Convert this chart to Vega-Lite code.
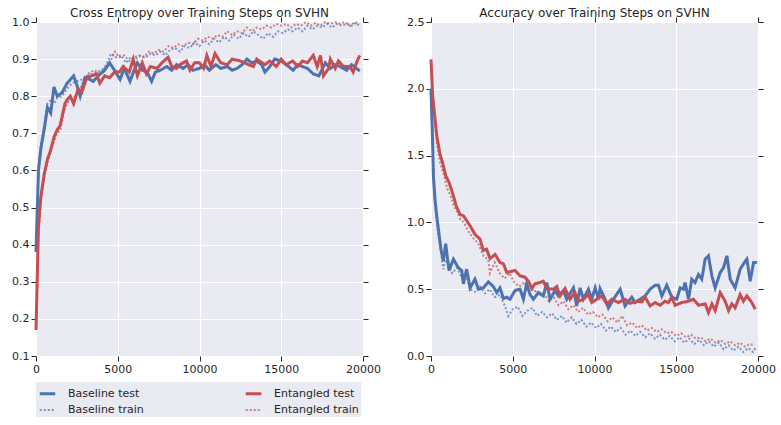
{
  "$schema": "https://vega.github.io/schema/vega-lite/v6.json",
  "background": "white",
  "padding": {"left": 11, "top": 7, "right": 5, "bottom": 3},
  "config": {
    "font": "DejaVu Sans",
    "view": {"fill": "#EAEAF2", "stroke": null},
    "axis": {
      "domain": false,
      "gridColor": "white",
      "gridWidth": 1,
      "tickColor": "#262626",
      "tickSize": 5,
      "tickWidth": 1,
      "labelColor": "#262626",
      "labelFontSize": 11,
      "labelPadding": 2,
      "labelFlush": false,
      "title": null
    },
    "title": {"fontSize": 12, "fontWeight": "normal", "color": "#262626", "offset": -4},
    "legend": {
      "fillColor": "#EAEAF2",
      "padding": 2,
      "labelFontSize": 11,
      "labelColor": "#262626",
      "labelOffset": 11,
      "symbolType": "stroke",
      "symbolSize": 240,
      "rowPadding": 1,
      "columnPadding": 95
    },
    "concat": {"spacing": 25}
  },
  "datasets": {
    "left": [
      {"series": "Baseline train", "step": 0, "value": 0.38},
      {"series": "Baseline train", "step": 150, "value": 0.6},
      {"series": "Baseline train", "step": 300, "value": 0.67},
      {"series": "Baseline train", "step": 500, "value": 0.72},
      {"series": "Baseline train", "step": 700, "value": 0.78},
      {"series": "Baseline train", "step": 900, "value": 0.79},
      {"series": "Baseline train", "step": 1100, "value": 0.78},
      {"series": "Baseline train", "step": 1300, "value": 0.795},
      {"series": "Baseline train", "step": 1600, "value": 0.8},
      {"series": "Baseline train", "step": 1900, "value": 0.82},
      {"series": "Baseline train", "step": 2200, "value": 0.835},
      {"series": "Baseline train", "step": 2500, "value": 0.84},
      {"series": "Baseline train", "step": 2800, "value": 0.845},
      {"series": "Baseline train", "step": 3100, "value": 0.855},
      {"series": "Baseline train", "step": 3400, "value": 0.86},
      {"series": "Baseline train", "step": 3700, "value": 0.865},
      {"series": "Baseline train", "step": 4000, "value": 0.87},
      {"series": "Baseline train", "step": 4300, "value": 0.885},
      {"series": "Baseline train", "step": 4600, "value": 0.915},
      {"series": "Baseline train", "step": 4900, "value": 0.905},
      {"series": "Baseline train", "step": 5200, "value": 0.91},
      {"series": "Baseline train", "step": 5500, "value": 0.89},
      {"series": "Baseline train", "step": 5800, "value": 0.905},
      {"series": "Baseline train", "step": 6100, "value": 0.9},
      {"series": "Baseline train", "step": 6400, "value": 0.91},
      {"series": "Baseline train", "step": 6700, "value": 0.905},
      {"series": "Baseline train", "step": 7000, "value": 0.915},
      {"series": "Baseline train", "step": 7300, "value": 0.91},
      {"series": "Baseline train", "step": 7600, "value": 0.92},
      {"series": "Baseline train", "step": 7900, "value": 0.91},
      {"series": "Baseline train", "step": 8200, "value": 0.925},
      {"series": "Baseline train", "step": 8500, "value": 0.93},
      {"series": "Baseline train", "step": 8800, "value": 0.92},
      {"series": "Baseline train", "step": 9100, "value": 0.935},
      {"series": "Baseline train", "step": 9400, "value": 0.93},
      {"series": "Baseline train", "step": 9700, "value": 0.945},
      {"series": "Baseline train", "step": 10000, "value": 0.935},
      {"series": "Baseline train", "step": 10300, "value": 0.95},
      {"series": "Baseline train", "step": 10600, "value": 0.94},
      {"series": "Baseline train", "step": 10900, "value": 0.955},
      {"series": "Baseline train", "step": 11200, "value": 0.945},
      {"series": "Baseline train", "step": 11500, "value": 0.96},
      {"series": "Baseline train", "step": 11800, "value": 0.95},
      {"series": "Baseline train", "step": 12100, "value": 0.965},
      {"series": "Baseline train", "step": 12400, "value": 0.955},
      {"series": "Baseline train", "step": 12700, "value": 0.97},
      {"series": "Baseline train", "step": 13000, "value": 0.96},
      {"series": "Baseline train", "step": 13300, "value": 0.975},
      {"series": "Baseline train", "step": 13600, "value": 0.965},
      {"series": "Baseline train", "step": 13900, "value": 0.955},
      {"series": "Baseline train", "step": 14200, "value": 0.97},
      {"series": "Baseline train", "step": 14500, "value": 0.96},
      {"series": "Baseline train", "step": 14800, "value": 0.975},
      {"series": "Baseline train", "step": 15100, "value": 0.97},
      {"series": "Baseline train", "step": 15400, "value": 0.98},
      {"series": "Baseline train", "step": 15700, "value": 0.975},
      {"series": "Baseline train", "step": 16000, "value": 0.985},
      {"series": "Baseline train", "step": 16300, "value": 0.975},
      {"series": "Baseline train", "step": 16600, "value": 0.99},
      {"series": "Baseline train", "step": 16900, "value": 0.98},
      {"series": "Baseline train", "step": 17200, "value": 0.99},
      {"series": "Baseline train", "step": 17500, "value": 0.985},
      {"series": "Baseline train", "step": 17800, "value": 0.995},
      {"series": "Baseline train", "step": 18100, "value": 0.985},
      {"series": "Baseline train", "step": 18400, "value": 0.995},
      {"series": "Baseline train", "step": 18700, "value": 0.99},
      {"series": "Baseline train", "step": 19000, "value": 0.995},
      {"series": "Baseline train", "step": 19300, "value": 0.99},
      {"series": "Baseline train", "step": 19600, "value": 0.998},
      {"series": "Baseline train", "step": 19800, "value": 0.985},
      {"series": "Entangled train", "step": 0, "value": 0.17},
      {"series": "Entangled train", "step": 150, "value": 0.42},
      {"series": "Entangled train", "step": 300, "value": 0.52},
      {"series": "Entangled train", "step": 500, "value": 0.58},
      {"series": "Entangled train", "step": 700, "value": 0.62},
      {"series": "Entangled train", "step": 900, "value": 0.65},
      {"series": "Entangled train", "step": 1100, "value": 0.68},
      {"series": "Entangled train", "step": 1300, "value": 0.7},
      {"series": "Entangled train", "step": 1500, "value": 0.71},
      {"series": "Entangled train", "step": 1700, "value": 0.76},
      {"series": "Entangled train", "step": 1900, "value": 0.78},
      {"series": "Entangled train", "step": 2100, "value": 0.79},
      {"series": "Entangled train", "step": 2400, "value": 0.8},
      {"series": "Entangled train", "step": 2700, "value": 0.82},
      {"series": "Entangled train", "step": 3000, "value": 0.85},
      {"series": "Entangled train", "step": 3300, "value": 0.865},
      {"series": "Entangled train", "step": 3600, "value": 0.87},
      {"series": "Entangled train", "step": 3900, "value": 0.86},
      {"series": "Entangled train", "step": 4200, "value": 0.875},
      {"series": "Entangled train", "step": 4500, "value": 0.89},
      {"series": "Entangled train", "step": 4830, "value": 0.92},
      {"series": "Entangled train", "step": 5100, "value": 0.905},
      {"series": "Entangled train", "step": 5400, "value": 0.91},
      {"series": "Entangled train", "step": 5700, "value": 0.895},
      {"series": "Entangled train", "step": 6000, "value": 0.905},
      {"series": "Entangled train", "step": 6300, "value": 0.91},
      {"series": "Entangled train", "step": 6600, "value": 0.905},
      {"series": "Entangled train", "step": 6900, "value": 0.92},
      {"series": "Entangled train", "step": 7200, "value": 0.915},
      {"series": "Entangled train", "step": 7500, "value": 0.925},
      {"series": "Entangled train", "step": 7800, "value": 0.92},
      {"series": "Entangled train", "step": 8100, "value": 0.935},
      {"series": "Entangled train", "step": 8400, "value": 0.93},
      {"series": "Entangled train", "step": 8700, "value": 0.94},
      {"series": "Entangled train", "step": 9000, "value": 0.935},
      {"series": "Entangled train", "step": 9300, "value": 0.945},
      {"series": "Entangled train", "step": 9600, "value": 0.94},
      {"series": "Entangled train", "step": 9900, "value": 0.955},
      {"series": "Entangled train", "step": 10200, "value": 0.95},
      {"series": "Entangled train", "step": 10500, "value": 0.96},
      {"series": "Entangled train", "step": 10800, "value": 0.955},
      {"series": "Entangled train", "step": 11100, "value": 0.965},
      {"series": "Entangled train", "step": 11400, "value": 0.96},
      {"series": "Entangled train", "step": 11700, "value": 0.975},
      {"series": "Entangled train", "step": 12000, "value": 0.965},
      {"series": "Entangled train", "step": 12300, "value": 0.975},
      {"series": "Entangled train", "step": 12600, "value": 0.97},
      {"series": "Entangled train", "step": 12900, "value": 0.985},
      {"series": "Entangled train", "step": 13200, "value": 0.975},
      {"series": "Entangled train", "step": 13500, "value": 0.985},
      {"series": "Entangled train", "step": 13800, "value": 0.98},
      {"series": "Entangled train", "step": 14100, "value": 0.99},
      {"series": "Entangled train", "step": 14400, "value": 0.985},
      {"series": "Entangled train", "step": 14700, "value": 0.995},
      {"series": "Entangled train", "step": 15000, "value": 0.99},
      {"series": "Entangled train", "step": 15300, "value": 0.995},
      {"series": "Entangled train", "step": 15600, "value": 0.985},
      {"series": "Entangled train", "step": 15900, "value": 0.995},
      {"series": "Entangled train", "step": 16200, "value": 0.99},
      {"series": "Entangled train", "step": 16500, "value": 1.0},
      {"series": "Entangled train", "step": 16800, "value": 0.99},
      {"series": "Entangled train", "step": 17100, "value": 0.998},
      {"series": "Entangled train", "step": 17400, "value": 0.99},
      {"series": "Entangled train", "step": 17700, "value": 1.0},
      {"series": "Entangled train", "step": 18000, "value": 0.995},
      {"series": "Entangled train", "step": 18300, "value": 1.0},
      {"series": "Entangled train", "step": 18600, "value": 0.995},
      {"series": "Entangled train", "step": 18900, "value": 1.0},
      {"series": "Entangled train", "step": 19200, "value": 0.99},
      {"series": "Entangled train", "step": 19500, "value": 1.0},
      {"series": "Entangled train", "step": 19800, "value": 0.995},
      {"series": "Baseline test", "step": 0, "value": 0.38},
      {"series": "Baseline test", "step": 150, "value": 0.6},
      {"series": "Baseline test", "step": 300, "value": 0.66},
      {"series": "Baseline test", "step": 500, "value": 0.71},
      {"series": "Baseline test", "step": 700, "value": 0.77},
      {"series": "Baseline test", "step": 900, "value": 0.755},
      {"series": "Baseline test", "step": 1100, "value": 0.825},
      {"series": "Baseline test", "step": 1300, "value": 0.8},
      {"series": "Baseline test", "step": 1600, "value": 0.81},
      {"series": "Baseline test", "step": 1900, "value": 0.835},
      {"series": "Baseline test", "step": 2300, "value": 0.855},
      {"series": "Baseline test", "step": 2500, "value": 0.83},
      {"series": "Baseline test", "step": 2700, "value": 0.8},
      {"series": "Baseline test", "step": 3000, "value": 0.85},
      {"series": "Baseline test", "step": 3300, "value": 0.845},
      {"series": "Baseline test", "step": 3500, "value": 0.84},
      {"series": "Baseline test", "step": 3800, "value": 0.855},
      {"series": "Baseline test", "step": 4200, "value": 0.87},
      {"series": "Baseline test", "step": 4500, "value": 0.89},
      {"series": "Baseline test", "step": 4800, "value": 0.87},
      {"series": "Baseline test", "step": 5140, "value": 0.845},
      {"series": "Baseline test", "step": 5400, "value": 0.875},
      {"series": "Baseline test", "step": 5750, "value": 0.84},
      {"series": "Baseline test", "step": 6000, "value": 0.87},
      {"series": "Baseline test", "step": 6200, "value": 0.89},
      {"series": "Baseline test", "step": 6500, "value": 0.87},
      {"series": "Baseline test", "step": 6800, "value": 0.865},
      {"series": "Baseline test", "step": 7070, "value": 0.84},
      {"series": "Baseline test", "step": 7300, "value": 0.865},
      {"series": "Baseline test", "step": 7600, "value": 0.87},
      {"series": "Baseline test", "step": 8000, "value": 0.88},
      {"series": "Baseline test", "step": 8300, "value": 0.87},
      {"series": "Baseline test", "step": 8600, "value": 0.885},
      {"series": "Baseline test", "step": 9000, "value": 0.875},
      {"series": "Baseline test", "step": 9300, "value": 0.885},
      {"series": "Baseline test", "step": 9600, "value": 0.87},
      {"series": "Baseline test", "step": 10000, "value": 0.875},
      {"series": "Baseline test", "step": 10300, "value": 0.885},
      {"series": "Baseline test", "step": 10600, "value": 0.87},
      {"series": "Baseline test", "step": 11000, "value": 0.885},
      {"series": "Baseline test", "step": 11300, "value": 0.875},
      {"series": "Baseline test", "step": 11700, "value": 0.88},
      {"series": "Baseline test", "step": 12000, "value": 0.87},
      {"series": "Baseline test", "step": 12300, "value": 0.875},
      {"series": "Baseline test", "step": 12600, "value": 0.885},
      {"series": "Baseline test", "step": 12900, "value": 0.9},
      {"series": "Baseline test", "step": 13200, "value": 0.89},
      {"series": "Baseline test", "step": 13500, "value": 0.895},
      {"series": "Baseline test", "step": 13800, "value": 0.885},
      {"series": "Baseline test", "step": 14000, "value": 0.865},
      {"series": "Baseline test", "step": 14300, "value": 0.88},
      {"series": "Baseline test", "step": 14600, "value": 0.9},
      {"series": "Baseline test", "step": 15000, "value": 0.895},
      {"series": "Baseline test", "step": 15300, "value": 0.885},
      {"series": "Baseline test", "step": 15730, "value": 0.87},
      {"series": "Baseline test", "step": 16000, "value": 0.885},
      {"series": "Baseline test", "step": 16300, "value": 0.88},
      {"series": "Baseline test", "step": 16600, "value": 0.875},
      {"series": "Baseline test", "step": 16960, "value": 0.86},
      {"series": "Baseline test", "step": 17300, "value": 0.855},
      {"series": "Baseline test", "step": 17700, "value": 0.89},
      {"series": "Baseline test", "step": 18000, "value": 0.875},
      {"series": "Baseline test", "step": 18300, "value": 0.885},
      {"series": "Baseline test", "step": 18600, "value": 0.88},
      {"series": "Baseline test", "step": 19000, "value": 0.87},
      {"series": "Baseline test", "step": 19300, "value": 0.885},
      {"series": "Baseline test", "step": 19600, "value": 0.875},
      {"series": "Baseline test", "step": 19800, "value": 0.868},
      {"series": "Entangled test", "step": 0, "value": 0.17},
      {"series": "Entangled test", "step": 150, "value": 0.45},
      {"series": "Entangled test", "step": 300, "value": 0.53},
      {"series": "Entangled test", "step": 500, "value": 0.59},
      {"series": "Entangled test", "step": 700, "value": 0.63},
      {"series": "Entangled test", "step": 900, "value": 0.655},
      {"series": "Entangled test", "step": 1100, "value": 0.69},
      {"series": "Entangled test", "step": 1300, "value": 0.71},
      {"series": "Entangled test", "step": 1470, "value": 0.72},
      {"series": "Entangled test", "step": 1770, "value": 0.78},
      {"series": "Entangled test", "step": 1900, "value": 0.79},
      {"series": "Entangled test", "step": 2100, "value": 0.8},
      {"series": "Entangled test", "step": 2300, "value": 0.78},
      {"series": "Entangled test", "step": 2580, "value": 0.82},
      {"series": "Entangled test", "step": 2800, "value": 0.81},
      {"series": "Entangled test", "step": 3100, "value": 0.85},
      {"series": "Entangled test", "step": 3400, "value": 0.855},
      {"series": "Entangled test", "step": 3700, "value": 0.86},
      {"series": "Entangled test", "step": 3900, "value": 0.835},
      {"series": "Entangled test", "step": 4200, "value": 0.855},
      {"series": "Entangled test", "step": 4500, "value": 0.85},
      {"series": "Entangled test", "step": 4800, "value": 0.865},
      {"series": "Entangled test", "step": 5100, "value": 0.865},
      {"series": "Entangled test", "step": 5330, "value": 0.88},
      {"series": "Entangled test", "step": 5700, "value": 0.865},
      {"series": "Entangled test", "step": 5950, "value": 0.9},
      {"series": "Entangled test", "step": 6200, "value": 0.855},
      {"series": "Entangled test", "step": 6500, "value": 0.89},
      {"series": "Entangled test", "step": 6750, "value": 0.86},
      {"series": "Entangled test", "step": 7000, "value": 0.88},
      {"series": "Entangled test", "step": 7400, "value": 0.875},
      {"series": "Entangled test", "step": 7700, "value": 0.89},
      {"series": "Entangled test", "step": 8080, "value": 0.905},
      {"series": "Entangled test", "step": 8300, "value": 0.88},
      {"series": "Entangled test", "step": 8600, "value": 0.875},
      {"series": "Entangled test", "step": 8800, "value": 0.885},
      {"series": "Entangled test", "step": 9000, "value": 0.89},
      {"series": "Entangled test", "step": 9200, "value": 0.895},
      {"series": "Entangled test", "step": 9420, "value": 0.87},
      {"series": "Entangled test", "step": 9700, "value": 0.89},
      {"series": "Entangled test", "step": 10000, "value": 0.89},
      {"series": "Entangled test", "step": 10250, "value": 0.875},
      {"series": "Entangled test", "step": 10450, "value": 0.91},
      {"series": "Entangled test", "step": 10700, "value": 0.88},
      {"series": "Entangled test", "step": 10950, "value": 0.915},
      {"series": "Entangled test", "step": 11300, "value": 0.89},
      {"series": "Entangled test", "step": 11700, "value": 0.885},
      {"series": "Entangled test", "step": 12000, "value": 0.9},
      {"series": "Entangled test", "step": 12500, "value": 0.895},
      {"series": "Entangled test", "step": 13000, "value": 0.885},
      {"series": "Entangled test", "step": 13300, "value": 0.88},
      {"series": "Entangled test", "step": 13500, "value": 0.9},
      {"series": "Entangled test", "step": 14000, "value": 0.885},
      {"series": "Entangled test", "step": 14300, "value": 0.895},
      {"series": "Entangled test", "step": 14700, "value": 0.88},
      {"series": "Entangled test", "step": 15000, "value": 0.9},
      {"series": "Entangled test", "step": 15300, "value": 0.885},
      {"series": "Entangled test", "step": 15700, "value": 0.895},
      {"series": "Entangled test", "step": 16000, "value": 0.88},
      {"series": "Entangled test", "step": 16300, "value": 0.895},
      {"series": "Entangled test", "step": 16600, "value": 0.89},
      {"series": "Entangled test", "step": 16960, "value": 0.91},
      {"series": "Entangled test", "step": 17200, "value": 0.88},
      {"series": "Entangled test", "step": 17400, "value": 0.91},
      {"series": "Entangled test", "step": 17580, "value": 0.855},
      {"series": "Entangled test", "step": 17900, "value": 0.875},
      {"series": "Entangled test", "step": 18000, "value": 0.9},
      {"series": "Entangled test", "step": 18300, "value": 0.875},
      {"series": "Entangled test", "step": 18500, "value": 0.895},
      {"series": "Entangled test", "step": 18800, "value": 0.88},
      {"series": "Entangled test", "step": 19200, "value": 0.88},
      {"series": "Entangled test", "step": 19400, "value": 0.865},
      {"series": "Entangled test", "step": 19600, "value": 0.89},
      {"series": "Entangled test", "step": 19800, "value": 0.91}
    ],
    "right": [
      {"series": "Baseline train", "step": 0, "value": 2.0},
      {"series": "Baseline train", "step": 100, "value": 1.55},
      {"series": "Baseline train", "step": 200, "value": 1.2},
      {"series": "Baseline train", "step": 400, "value": 0.95},
      {"series": "Baseline train", "step": 600, "value": 0.78},
      {"series": "Baseline train", "step": 750, "value": 0.65},
      {"series": "Baseline train", "step": 900, "value": 0.72},
      {"series": "Baseline train", "step": 1100, "value": 0.68},
      {"series": "Baseline train", "step": 1300, "value": 0.62},
      {"series": "Baseline train", "step": 1600, "value": 0.66},
      {"series": "Baseline train", "step": 1900, "value": 0.58},
      {"series": "Baseline train", "step": 2100, "value": 0.62},
      {"series": "Baseline train", "step": 2400, "value": 0.5},
      {"series": "Baseline train", "step": 2700, "value": 0.48},
      {"series": "Baseline train", "step": 3000, "value": 0.52},
      {"series": "Baseline train", "step": 3300, "value": 0.47},
      {"series": "Baseline train", "step": 3600, "value": 0.5},
      {"series": "Baseline train", "step": 3900, "value": 0.44},
      {"series": "Baseline train", "step": 4200, "value": 0.46},
      {"series": "Baseline train", "step": 4500, "value": 0.38},
      {"series": "Baseline train", "step": 4730, "value": 0.3},
      {"series": "Baseline train", "step": 5000, "value": 0.35},
      {"series": "Baseline train", "step": 5300, "value": 0.37},
      {"series": "Baseline train", "step": 5600, "value": 0.3},
      {"series": "Baseline train", "step": 5900, "value": 0.34},
      {"series": "Baseline train", "step": 6200, "value": 0.36},
      {"series": "Baseline train", "step": 6500, "value": 0.3},
      {"series": "Baseline train", "step": 6800, "value": 0.33},
      {"series": "Baseline train", "step": 7100, "value": 0.29},
      {"series": "Baseline train", "step": 7400, "value": 0.32},
      {"series": "Baseline train", "step": 7700, "value": 0.27},
      {"series": "Baseline train", "step": 8000, "value": 0.3},
      {"series": "Baseline train", "step": 8300, "value": 0.25},
      {"series": "Baseline train", "step": 8600, "value": 0.29},
      {"series": "Baseline train", "step": 8900, "value": 0.24},
      {"series": "Baseline train", "step": 9200, "value": 0.27},
      {"series": "Baseline train", "step": 9500, "value": 0.22},
      {"series": "Baseline train", "step": 9800, "value": 0.25},
      {"series": "Baseline train", "step": 10100, "value": 0.21},
      {"series": "Baseline train", "step": 10400, "value": 0.24},
      {"series": "Baseline train", "step": 10700, "value": 0.19},
      {"series": "Baseline train", "step": 11000, "value": 0.22},
      {"series": "Baseline train", "step": 11300, "value": 0.18},
      {"series": "Baseline train", "step": 11600, "value": 0.21},
      {"series": "Baseline train", "step": 11900, "value": 0.16},
      {"series": "Baseline train", "step": 12200, "value": 0.19},
      {"series": "Baseline train", "step": 12500, "value": 0.15},
      {"series": "Baseline train", "step": 12800, "value": 0.18},
      {"series": "Baseline train", "step": 13100, "value": 0.14},
      {"series": "Baseline train", "step": 13400, "value": 0.17},
      {"series": "Baseline train", "step": 13700, "value": 0.13},
      {"series": "Baseline train", "step": 14000, "value": 0.16},
      {"series": "Baseline train", "step": 14300, "value": 0.12},
      {"series": "Baseline train", "step": 14600, "value": 0.15},
      {"series": "Baseline train", "step": 14900, "value": 0.11},
      {"series": "Baseline train", "step": 15200, "value": 0.14},
      {"series": "Baseline train", "step": 15500, "value": 0.1},
      {"series": "Baseline train", "step": 15800, "value": 0.13},
      {"series": "Baseline train", "step": 16100, "value": 0.09},
      {"series": "Baseline train", "step": 16400, "value": 0.12},
      {"series": "Baseline train", "step": 16700, "value": 0.08},
      {"series": "Baseline train", "step": 17000, "value": 0.11},
      {"series": "Baseline train", "step": 17300, "value": 0.07},
      {"series": "Baseline train", "step": 17600, "value": 0.1},
      {"series": "Baseline train", "step": 17900, "value": 0.05},
      {"series": "Baseline train", "step": 18200, "value": 0.08},
      {"series": "Baseline train", "step": 18500, "value": 0.04},
      {"series": "Baseline train", "step": 18800, "value": 0.07},
      {"series": "Baseline train", "step": 19100, "value": 0.03},
      {"series": "Baseline train", "step": 19400, "value": 0.06},
      {"series": "Baseline train", "step": 19700, "value": 0.03},
      {"series": "Baseline train", "step": 19900, "value": 0.07},
      {"series": "Entangled train", "step": 0, "value": 2.2},
      {"series": "Entangled train", "step": 150, "value": 1.9},
      {"series": "Entangled train", "step": 350, "value": 1.6},
      {"series": "Entangled train", "step": 550, "value": 1.45},
      {"series": "Entangled train", "step": 800, "value": 1.35},
      {"series": "Entangled train", "step": 1000, "value": 1.25},
      {"series": "Entangled train", "step": 1200, "value": 1.2},
      {"series": "Entangled train", "step": 1400, "value": 1.12},
      {"series": "Entangled train", "step": 1600, "value": 1.08},
      {"series": "Entangled train", "step": 1800, "value": 1.02},
      {"series": "Entangled train", "step": 2000, "value": 1.0},
      {"series": "Entangled train", "step": 2300, "value": 0.93},
      {"series": "Entangled train", "step": 2600, "value": 0.88},
      {"series": "Entangled train", "step": 2900, "value": 0.84},
      {"series": "Entangled train", "step": 3200, "value": 0.75},
      {"series": "Entangled train", "step": 3500, "value": 0.72},
      {"series": "Entangled train", "step": 3600, "value": 0.62},
      {"series": "Entangled train", "step": 3900, "value": 0.7},
      {"series": "Entangled train", "step": 4200, "value": 0.62},
      {"series": "Entangled train", "step": 4500, "value": 0.58},
      {"series": "Entangled train", "step": 4800, "value": 0.62},
      {"series": "Entangled train", "step": 5100, "value": 0.55},
      {"series": "Entangled train", "step": 5400, "value": 0.52},
      {"series": "Entangled train", "step": 5700, "value": 0.55},
      {"series": "Entangled train", "step": 6000, "value": 0.48},
      {"series": "Entangled train", "step": 6300, "value": 0.5},
      {"series": "Entangled train", "step": 6600, "value": 0.45},
      {"series": "Entangled train", "step": 6900, "value": 0.47},
      {"series": "Entangled train", "step": 7200, "value": 0.41},
      {"series": "Entangled train", "step": 7500, "value": 0.44},
      {"series": "Entangled train", "step": 7800, "value": 0.38},
      {"series": "Entangled train", "step": 8100, "value": 0.41},
      {"series": "Entangled train", "step": 8400, "value": 0.35},
      {"series": "Entangled train", "step": 8700, "value": 0.38},
      {"series": "Entangled train", "step": 9000, "value": 0.33},
      {"series": "Entangled train", "step": 9300, "value": 0.36},
      {"series": "Entangled train", "step": 9600, "value": 0.31},
      {"series": "Entangled train", "step": 9900, "value": 0.33},
      {"series": "Entangled train", "step": 10200, "value": 0.29},
      {"series": "Entangled train", "step": 10500, "value": 0.31},
      {"series": "Entangled train", "step": 10800, "value": 0.26},
      {"series": "Entangled train", "step": 11100, "value": 0.29},
      {"series": "Entangled train", "step": 11400, "value": 0.25},
      {"series": "Entangled train", "step": 11700, "value": 0.3},
      {"series": "Entangled train", "step": 12000, "value": 0.23},
      {"series": "Entangled train", "step": 12300, "value": 0.25},
      {"series": "Entangled train", "step": 12600, "value": 0.21},
      {"series": "Entangled train", "step": 12900, "value": 0.23},
      {"series": "Entangled train", "step": 13200, "value": 0.19},
      {"series": "Entangled train", "step": 13500, "value": 0.21},
      {"series": "Entangled train", "step": 13800, "value": 0.18},
      {"series": "Entangled train", "step": 14100, "value": 0.2},
      {"series": "Entangled train", "step": 14400, "value": 0.17},
      {"series": "Entangled train", "step": 14700, "value": 0.18},
      {"series": "Entangled train", "step": 15000, "value": 0.15},
      {"series": "Entangled train", "step": 15300, "value": 0.17},
      {"series": "Entangled train", "step": 15600, "value": 0.14},
      {"series": "Entangled train", "step": 15900, "value": 0.16},
      {"series": "Entangled train", "step": 16200, "value": 0.13},
      {"series": "Entangled train", "step": 16500, "value": 0.14},
      {"series": "Entangled train", "step": 16800, "value": 0.11},
      {"series": "Entangled train", "step": 17100, "value": 0.13},
      {"series": "Entangled train", "step": 17400, "value": 0.1},
      {"series": "Entangled train", "step": 17700, "value": 0.12},
      {"series": "Entangled train", "step": 18000, "value": 0.09},
      {"series": "Entangled train", "step": 18300, "value": 0.11},
      {"series": "Entangled train", "step": 18600, "value": 0.08},
      {"series": "Entangled train", "step": 18900, "value": 0.1},
      {"series": "Entangled train", "step": 19200, "value": 0.07},
      {"series": "Entangled train", "step": 19500, "value": 0.09},
      {"series": "Entangled train", "step": 19800, "value": 0.08},
      {"series": "Baseline test", "step": 0, "value": 2.0},
      {"series": "Baseline test", "step": 100, "value": 1.6},
      {"series": "Baseline test", "step": 146, "value": 1.35},
      {"series": "Baseline test", "step": 245, "value": 1.17},
      {"series": "Baseline test", "step": 350, "value": 1.05},
      {"series": "Baseline test", "step": 450, "value": 0.95},
      {"series": "Baseline test", "step": 610, "value": 0.8},
      {"series": "Baseline test", "step": 755, "value": 0.71},
      {"series": "Baseline test", "step": 900, "value": 0.84},
      {"series": "Baseline test", "step": 1100, "value": 0.64},
      {"series": "Baseline test", "step": 1370, "value": 0.725},
      {"series": "Baseline test", "step": 1670, "value": 0.66},
      {"series": "Baseline test", "step": 1880, "value": 0.64},
      {"series": "Baseline test", "step": 1980, "value": 0.54},
      {"series": "Baseline test", "step": 2180, "value": 0.65},
      {"series": "Baseline test", "step": 2390, "value": 0.51},
      {"series": "Baseline test", "step": 2690, "value": 0.575},
      {"series": "Baseline test", "step": 2900, "value": 0.5},
      {"series": "Baseline test", "step": 3200, "value": 0.51},
      {"series": "Baseline test", "step": 3510, "value": 0.555},
      {"series": "Baseline test", "step": 3810, "value": 0.52},
      {"series": "Baseline test", "step": 4020, "value": 0.475},
      {"series": "Baseline test", "step": 4220, "value": 0.51},
      {"series": "Baseline test", "step": 4430, "value": 0.43},
      {"series": "Baseline test", "step": 4630, "value": 0.44},
      {"series": "Baseline test", "step": 4830, "value": 0.425},
      {"series": "Baseline test", "step": 5140, "value": 0.49},
      {"series": "Baseline test", "step": 5450, "value": 0.5},
      {"series": "Baseline test", "step": 5650, "value": 0.425},
      {"series": "Baseline test", "step": 5850, "value": 0.54},
      {"series": "Baseline test", "step": 6060, "value": 0.46},
      {"series": "Baseline test", "step": 6260, "value": 0.425},
      {"series": "Baseline test", "step": 6570, "value": 0.475},
      {"series": "Baseline test", "step": 6870, "value": 0.45},
      {"series": "Baseline test", "step": 7080, "value": 0.55},
      {"series": "Baseline test", "step": 7280, "value": 0.425},
      {"series": "Baseline test", "step": 7590, "value": 0.49},
      {"series": "Baseline test", "step": 7790, "value": 0.45},
      {"series": "Baseline test", "step": 8100, "value": 0.49},
      {"series": "Baseline test", "step": 8300, "value": 0.425},
      {"series": "Baseline test", "step": 8710, "value": 0.51},
      {"series": "Baseline test", "step": 8910, "value": 0.375},
      {"series": "Baseline test", "step": 9120, "value": 0.51},
      {"series": "Baseline test", "step": 9320, "value": 0.425},
      {"series": "Baseline test", "step": 9630, "value": 0.5},
      {"series": "Baseline test", "step": 9830, "value": 0.425},
      {"series": "Baseline test", "step": 10040, "value": 0.51},
      {"series": "Baseline test", "step": 10240, "value": 0.425},
      {"series": "Baseline test", "step": 10340, "value": 0.505},
      {"series": "Baseline test", "step": 10650, "value": 0.425},
      {"series": "Baseline test", "step": 10850, "value": 0.36},
      {"series": "Baseline test", "step": 11160, "value": 0.425},
      {"series": "Baseline test", "step": 11570, "value": 0.5},
      {"series": "Baseline test", "step": 11870, "value": 0.375},
      {"series": "Baseline test", "step": 12280, "value": 0.44},
      {"series": "Baseline test", "step": 12480, "value": 0.4},
      {"series": "Baseline test", "step": 12790, "value": 0.425},
      {"series": "Baseline test", "step": 13100, "value": 0.45},
      {"series": "Baseline test", "step": 13400, "value": 0.5},
      {"series": "Baseline test", "step": 13710, "value": 0.53},
      {"series": "Baseline test", "step": 13910, "value": 0.53},
      {"series": "Baseline test", "step": 14120, "value": 0.45},
      {"series": "Baseline test", "step": 14420, "value": 0.53},
      {"series": "Baseline test", "step": 14730, "value": 0.44},
      {"series": "Baseline test", "step": 15030, "value": 0.425},
      {"series": "Baseline test", "step": 15240, "value": 0.51},
      {"series": "Baseline test", "step": 15440, "value": 0.5},
      {"series": "Baseline test", "step": 15540, "value": 0.55},
      {"series": "Baseline test", "step": 15750, "value": 0.425},
      {"series": "Baseline test", "step": 15950, "value": 0.575},
      {"series": "Baseline test", "step": 16150, "value": 0.55},
      {"series": "Baseline test", "step": 16360, "value": 0.61},
      {"series": "Baseline test", "step": 16560, "value": 0.575},
      {"series": "Baseline test", "step": 16770, "value": 0.725},
      {"series": "Baseline test", "step": 16970, "value": 0.75},
      {"series": "Baseline test", "step": 17180, "value": 0.6},
      {"series": "Baseline test", "step": 17380, "value": 0.51},
      {"series": "Baseline test", "step": 17690, "value": 0.625},
      {"series": "Baseline test", "step": 17890, "value": 0.66},
      {"series": "Baseline test", "step": 18100, "value": 0.75},
      {"series": "Baseline test", "step": 18300, "value": 0.575},
      {"series": "Baseline test", "step": 18600, "value": 0.51},
      {"series": "Baseline test", "step": 18910, "value": 0.65},
      {"series": "Baseline test", "step": 19220, "value": 0.71},
      {"series": "Baseline test", "step": 19320, "value": 0.725},
      {"series": "Baseline test", "step": 19520, "value": 0.56},
      {"series": "Baseline test", "step": 19730, "value": 0.7},
      {"series": "Baseline test", "step": 19930, "value": 0.7},
      {"series": "Entangled test", "step": 0, "value": 2.22},
      {"series": "Entangled test", "step": 100, "value": 1.95},
      {"series": "Entangled test", "step": 350, "value": 1.65},
      {"series": "Entangled test", "step": 550, "value": 1.51},
      {"series": "Entangled test", "step": 700, "value": 1.45},
      {"series": "Entangled test", "step": 900, "value": 1.35},
      {"series": "Entangled test", "step": 1100, "value": 1.3},
      {"series": "Entangled test", "step": 1370, "value": 1.2},
      {"series": "Entangled test", "step": 1550, "value": 1.12},
      {"series": "Entangled test", "step": 1775, "value": 1.06},
      {"series": "Entangled test", "step": 1980, "value": 1.05},
      {"series": "Entangled test", "step": 2390, "value": 0.975},
      {"series": "Entangled test", "step": 2690, "value": 0.91},
      {"series": "Entangled test", "step": 3000, "value": 0.875},
      {"series": "Entangled test", "step": 3200, "value": 0.79},
      {"series": "Entangled test", "step": 3400, "value": 0.8},
      {"series": "Entangled test", "step": 3610, "value": 0.73},
      {"series": "Entangled test", "step": 3920, "value": 0.76},
      {"series": "Entangled test", "step": 4220, "value": 0.7},
      {"series": "Entangled test", "step": 4430, "value": 0.69},
      {"series": "Entangled test", "step": 4630, "value": 0.625},
      {"series": "Entangled test", "step": 5140, "value": 0.64},
      {"series": "Entangled test", "step": 5450, "value": 0.6},
      {"series": "Entangled test", "step": 5750, "value": 0.59},
      {"series": "Entangled test", "step": 5960, "value": 0.56},
      {"series": "Entangled test", "step": 6160, "value": 0.505},
      {"series": "Entangled test", "step": 6360, "value": 0.54},
      {"series": "Entangled test", "step": 6670, "value": 0.55},
      {"series": "Entangled test", "step": 6870, "value": 0.56},
      {"series": "Entangled test", "step": 7080, "value": 0.505},
      {"series": "Entangled test", "step": 7490, "value": 0.5},
      {"series": "Entangled test", "step": 7690, "value": 0.52},
      {"series": "Entangled test", "step": 7900, "value": 0.45},
      {"series": "Entangled test", "step": 8200, "value": 0.505},
      {"series": "Entangled test", "step": 8500, "value": 0.425},
      {"series": "Entangled test", "step": 8800, "value": 0.475},
      {"series": "Entangled test", "step": 9020, "value": 0.41},
      {"series": "Entangled test", "step": 9320, "value": 0.425},
      {"series": "Entangled test", "step": 9630, "value": 0.46},
      {"series": "Entangled test", "step": 9830, "value": 0.4},
      {"series": "Entangled test", "step": 10140, "value": 0.425},
      {"series": "Entangled test", "step": 10440, "value": 0.45},
      {"series": "Entangled test", "step": 10750, "value": 0.39},
      {"series": "Entangled test", "step": 11060, "value": 0.425},
      {"series": "Entangled test", "step": 11460, "value": 0.4},
      {"series": "Entangled test", "step": 11870, "value": 0.425},
      {"series": "Entangled test", "step": 12180, "value": 0.395},
      {"series": "Entangled test", "step": 12590, "value": 0.41},
      {"series": "Entangled test", "step": 12890, "value": 0.405},
      {"series": "Entangled test", "step": 13100, "value": 0.44},
      {"series": "Entangled test", "step": 13400, "value": 0.375},
      {"series": "Entangled test", "step": 13710, "value": 0.4},
      {"series": "Entangled test", "step": 14010, "value": 0.38},
      {"series": "Entangled test", "step": 14320, "value": 0.41},
      {"series": "Entangled test", "step": 14520, "value": 0.4},
      {"series": "Entangled test", "step": 14730, "value": 0.44},
      {"series": "Entangled test", "step": 14930, "value": 0.38},
      {"series": "Entangled test", "step": 15340, "value": 0.4},
      {"series": "Entangled test", "step": 15750, "value": 0.41},
      {"series": "Entangled test", "step": 16050, "value": 0.425},
      {"series": "Entangled test", "step": 16360, "value": 0.38},
      {"series": "Entangled test", "step": 16770, "value": 0.39},
      {"series": "Entangled test", "step": 16970, "value": 0.325},
      {"series": "Entangled test", "step": 17180, "value": 0.39},
      {"series": "Entangled test", "step": 17380, "value": 0.34},
      {"series": "Entangled test", "step": 17690, "value": 0.475},
      {"series": "Entangled test", "step": 17990, "value": 0.41},
      {"series": "Entangled test", "step": 18200, "value": 0.34},
      {"series": "Entangled test", "step": 18400, "value": 0.39},
      {"series": "Entangled test", "step": 18600, "value": 0.36},
      {"series": "Entangled test", "step": 18910, "value": 0.46},
      {"series": "Entangled test", "step": 19110, "value": 0.41},
      {"series": "Entangled test", "step": 19320, "value": 0.45},
      {"series": "Entangled test", "step": 19620, "value": 0.4},
      {"series": "Entangled test", "step": 19830, "value": 0.35}
    ]
  },
  "hconcat": [
    {
      "title": "Cross Entropy over Training Steps on SVHN",
      "width": 327,
      "height": 334,
      "data": {"name": "left"},
      "layer": [
        {
          "mark": {"type": "line", "opacity": 0},
          "encoding": {
            "x": {"field": "step", "type": "quantitative", "scale": {"domain": [0, 20000]},
              "axis": {"orient": "top", "labels": false, "grid": false, "values": [0, 5000, 10000, 15000, 20000]}},
            "y": {"field": "value", "type": "quantitative", "scale": {"domain": [0.1, 1.0]},
              "axis": {"orient": "right", "labels": false, "grid": false, "values": [0.1, 0.2, 0.3, 0.4, 0.5, 0.6, 0.7, 0.8, 0.9, 1.0]}},
            "detail": {"field": "series"}
          }
        },
        {
          "mark": {"type": "line", "strokeCap": "butt"},
          "encoding": {
            "x": {"field": "step", "type": "quantitative", "scale": {"domain": [0, 20000]},
              "axis": {"orient": "bottom", "grid": true, "format": "d", "values": [0, 5000, 10000, 15000, 20000]}},
            "y": {"field": "value", "type": "quantitative", "scale": {"domain": [0.1, 1.0]},
              "axis": {"orient": "left", "grid": true, "format": ".1f", "values": [0.1, 0.2, 0.3, 0.4, 0.5, 0.6, 0.7, 0.8, 0.9, 1.0]}},
            "color": {"field": "series", "type": "nominal",
              "scale": {"domain": ["Baseline test", "Baseline train", "Entangled test", "Entangled train"], "range": ["#4C72B0", "#4C72B0", "#C44E52", "#C44E52"]},
              "legend": {"title": null, "orient": "none", "legendX": 0, "legendY": 360, "columns": 2}},
            "strokeDash": {"field": "series", "type": "nominal",
              "scale": {"domain": ["Baseline test", "Baseline train", "Entangled test", "Entangled train"], "range": [[1, 0], [2, 2], [1, 0], [2, 2]]},
              "legend": {"title": null, "orient": "none", "legendX": 0, "legendY": 360, "columns": 2}},
            "strokeWidth": {"field": "series", "type": "nominal",
              "scale": {"type": "ordinal", "domain": ["Baseline test", "Baseline train", "Entangled test", "Entangled train"], "range": [3, 2, 3, 2]},
              "legend": {"title": null, "orient": "none", "legendX": 0, "legendY": 360, "columns": 2}},
            "opacity": {"field": "series", "type": "nominal",
              "scale": {"type": "ordinal", "domain": ["Baseline test", "Baseline train", "Entangled test", "Entangled train"], "range": [1, 0.7, 1, 0.7]},
              "legend": {"title": null, "orient": "none", "legendX": 0, "legendY": 360, "columns": 2}}
          }
        }
      ],
      "resolve": {"axis": {"x": "independent", "y": "independent"}}
    },
    {
      "title": "Accuracy over Training Steps on SVHN",
      "width": 327,
      "height": 334,
      "data": {"name": "right"},
      "layer": [
        {
          "mark": {"type": "line", "opacity": 0},
          "encoding": {
            "x": {"field": "step", "type": "quantitative", "scale": {"domain": [0, 20000]},
              "axis": {"orient": "top", "labels": false, "grid": false, "values": [0, 5000, 10000, 15000, 20000]}},
            "y": {"field": "value", "type": "quantitative", "scale": {"domain": [0, 2.5]},
              "axis": {"orient": "right", "labels": false, "grid": false, "values": [0, 0.5, 1.0, 1.5, 2.0, 2.5]}},
            "detail": {"field": "series"}
          }
        },
        {
          "mark": {"type": "line", "strokeCap": "butt"},
          "encoding": {
            "x": {"field": "step", "type": "quantitative", "scale": {"domain": [0, 20000]},
              "axis": {"orient": "bottom", "grid": true, "format": "d", "values": [0, 5000, 10000, 15000, 20000]}},
            "y": {"field": "value", "type": "quantitative", "scale": {"domain": [0, 2.5]},
              "axis": {"orient": "left", "grid": true, "format": ".1f", "values": [0, 0.5, 1.0, 1.5, 2.0, 2.5]}},
            "color": {"field": "series", "type": "nominal",
              "scale": {"domain": ["Baseline test", "Baseline train", "Entangled test", "Entangled train"], "range": ["#4C72B0", "#4C72B0", "#C44E52", "#C44E52"]},
              "legend": null},
            "strokeDash": {"field": "series", "type": "nominal",
              "scale": {"domain": ["Baseline test", "Baseline train", "Entangled test", "Entangled train"], "range": [[1, 0], [2, 2], [1, 0], [2, 2]]},
              "legend": null},
            "strokeWidth": {"field": "series", "type": "nominal",
              "scale": {"type": "ordinal", "domain": ["Baseline test", "Baseline train", "Entangled test", "Entangled train"], "range": [3, 2, 3, 2]},
              "legend": null},
            "opacity": {"field": "series", "type": "nominal",
              "scale": {"type": "ordinal", "domain": ["Baseline test", "Baseline train", "Entangled test", "Entangled train"], "range": [1, 0.7, 1, 0.7]},
              "legend": null}
          }
        }
      ],
      "resolve": {"axis": {"x": "independent", "y": "independent"}}
    }
  ],
  "resolve": {
    "scale": {"color": "independent", "strokeDash": "independent", "strokeWidth": "independent", "opacity": "independent"},
    "legend": {"color": "independent", "strokeDash": "independent", "strokeWidth": "independent", "opacity": "independent"}
  }
}
